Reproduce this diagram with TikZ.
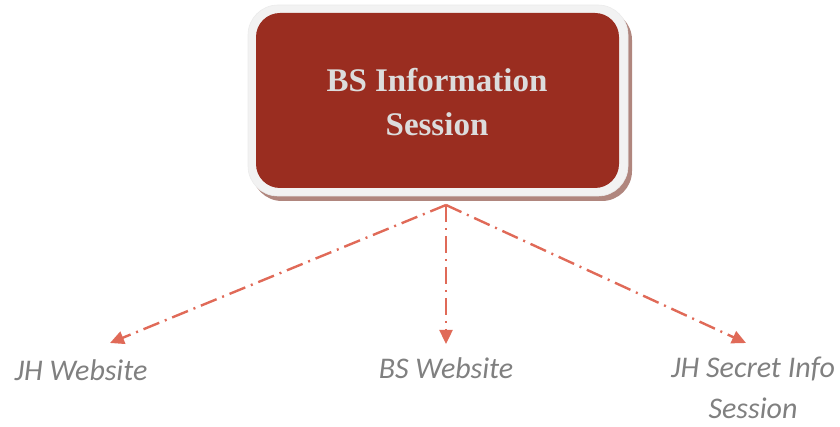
\documentclass[tikz,border=0pt]{standalone}
\usepackage{fontspec}
\setmainfont{Liberation Serif}
\newfontfamily\labelfont{Carlito}
\usepackage{tikz}
\usetikzlibrary{arrows.meta}

\definecolor{boxred}{HTML}{9A2D20}
\definecolor{boxrim}{HTML}{F2F2F2}
\definecolor{boxshade}{HTML}{B0867E}
\definecolor{linkred}{HTML}{E06A58}
\definecolor{titlegray}{HTML}{DCDCDC}
\definecolor{labelgray}{HTML}{808080}

\begin{document}
\begin{tikzpicture}[x=1pt, y=-1pt,
                    line cap=round, line join=round,
                    link/.style={linkred, line width=2.4pt, line cap=butt,
                                 dash pattern=on 17pt off 6pt on 2pt off 6pt,
                                 -{Triangle[length=14pt,width=13pt]}},
                    target/.style={labelgray, font=\labelfont\itshape\fontsize{30}{41}\selectfont,
                                   align=center, inner sep=0pt}]
  \useasboundingbox (0,0) rectangle (840,427);

  % main box: shadow, rim and red face
  \fill[boxshade, rounded corners=30pt] (252,10) rectangle (632,201);
  \filldraw[boxrim, draw=black!8, line width=0.6pt, rounded corners=30pt] (248,5) rectangle (628,196);
  \fill[boxred, rounded corners=24pt] (256,13) rectangle (619,188);
  \node[titlegray, font=\bfseries\fontsize{33}{44}\selectfont, align=center] (info)
    at (437,102) {BS Information\\Session};

  % targets
  \node[target, anchor=base] (jhweb) at (81,380) {JH Website};
  \node[target, anchor=base] (bsweb) at (446,378) {BS Website};
  \node[target, anchor=base] (jhsecret) at (753,418) {JH Secret Info\\Session};

  % arrow ends
  \coordinate (hub) at (446,205);
  \coordinate (jhtip) at (110,343);
  \coordinate (bstip) at (446,344);
  \coordinate (secrettip) at (746,343);

  \draw[link] (hub) -- (jhtip);
  \draw[link] (hub) -- (bstip);
  \draw[link] (hub) -- (secrettip);
\end{tikzpicture}
\end{document}
